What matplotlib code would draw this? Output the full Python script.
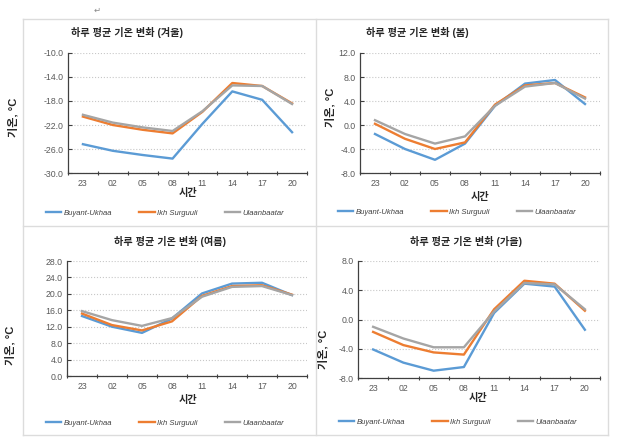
import numpy as np
import matplotlib
matplotlib.use("Agg")
import matplotlib.pyplot as plt
from matplotlib.lines import Line2D

plt.rcParams['font.family'] = ['Liberation Sans', 'Noto Sans CJK KR', 'DejaVu Sans']
plt.rcParams['axes.unicode_minus'] = False

hours = ["23", "02", "05", "08", "11", "14", "17", "20"]
stations = ["Buyant-Ukhaa", "Ikh Surguuli", "Ulaanbaatar"]

# 겨울
winter_buyant = [-25.2, -26.3, -27.0, -27.6, -21.8, -16.4, -17.8, -23.2]
winter_ikh = [-20.6, -22.0, -22.8, -23.4, -19.8, -15.0, -15.5, -18.4]
winter_ub = [-20.3, -21.6, -22.4, -23.0, -19.7, -15.4, -15.5, -18.5]
# 봄
spring_buyant = [-1.5, -4.0, -5.8, -3.1, 3.2, 6.9, 7.5, 3.5]
spring_ikh = [0.2, -2.3, -4.0, -2.9, 3.4, 6.6, 7.0, 4.6]
spring_ub = [0.8, -1.5, -3.1, -1.9, 3.2, 6.4, 7.0, 4.4]
# 여름
summer_buyant = [14.6, 12.0, 10.5, 14.0, 20.1, 22.5, 22.7, 19.7]
summer_ikh = [15.2, 12.4, 11.1, 13.3, 19.5, 21.9, 22.1, 19.8]
summer_ub = [15.8, 13.6, 12.2, 14.1, 19.3, 21.7, 21.9, 19.7]
# 가을
autumn_buyant = [-4.1, -5.9, -7.0, -6.5, 0.9, 4.9, 4.5, -1.4]
autumn_ikh = [-1.7, -3.5, -4.5, -4.8, 1.4, 5.3, 4.9, 1.2]
autumn_ub = [-1.0, -2.6, -3.8, -3.8, 1.1, 5.0, 4.8, 1.4]

colors = ["#5B9BD5", "#ED7D31", "#A5A5A5"]

W, H = 619, 444
fig = plt.figure(figsize=(W / 100, H / 100), dpi=100)

def fx(px):
    return px / W

def fy(py):
    return 1 - py / H

# 표 테두리
for x0, y0, x1, y1 in [(23, 19, 608, 19), (23, 435, 608, 435), (23, 19, 23, 435),
                       (608, 19, 608, 435), (316, 19, 316, 435), (23, 226, 608, 226)]:
    fig.add_artist(Line2D([fx(x0), fx(x1)], [fy(y0), fy(y1)], color="#dcdcdc", lw=1.0))

fig.text(fx(97), fy(10), "↵", fontsize=6, color="#888888", ha="center", va="center",
         family="DejaVu Sans")

panels = [
    # (data, ylim, yticks, axes box [l, t, r, b] px, title, title pos, ylabel pos, xlabel pos, legend pos)
    ((winter_buyant, winter_ikh, winter_ub), (-30, -10), np.arange(-30, -9, 4),
     (68, 53, 307, 173), "하루 평균 기온 변화 (겨울)", (127, 33), (13, 117), (188, 193), (47, 213)),
    ((spring_buyant, spring_ikh, spring_ub), (-8, 12), np.arange(-8, 13, 4),
     (360, 53, 600, 173), "하루 평균 기온 변화 (봄)", (417, 33), (330, 107), (480, 197), (339, 212)),
    ((summer_buyant, summer_ikh, summer_ub), (0, 28), np.arange(0, 29, 4),
     (67, 261, 307, 376), "하루 평균 기온 변화 (여름)", (170, 241), (10, 345), (188, 400), (47, 423)),
    ((autumn_buyant, autumn_ikh, autumn_ub), (-8, 8), np.arange(-8, 9, 4),
     (358, 261, 600, 378), "하루 평균 기온 변화 (가을)", (466, 241), (323, 349), (478, 398), (340, 422)),
]

x = np.arange(len(hours))
for series, ylim, yticks, box, title, tpos, ylpos, xlpos, lgpos in panels:
    l, t, r, b = box
    ax = fig.add_axes([fx(l), fy(b), fx(r - l), (b - t) / H])
    for vals, name, c in zip(series, stations, colors):
        ax.plot(x, vals, color=c, lw=1.7, label=name, solid_joinstyle="round")
    ax.set_xlim(-0.5, len(hours) - 0.5)
    ax.set_ylim(*ylim)
    ax.set_yticks(yticks)
    ax.set_yticklabels([f"{v:.1f}" for v in yticks])
    ax.set_xticks(x)
    ax.set_xticklabels(hours)
    ax.set_xticks(np.arange(-0.5, len(hours), 1), minor=True)
    ax.tick_params(axis="x", which="major", length=0, pad=4, labelsize=6.3, labelcolor="#595959")
    ax.tick_params(axis="x", which="minor", length=3, width=0.8, direction="inout", color="#404040")
    ax.tick_params(axis="y", length=3, width=0.8, direction="in", pad=3, labelsize=6.3,
                   labelcolor="#595959", color="#404040")
    ax.yaxis.grid(True, linestyle=":", color="#c8c8c8", lw=0.8)
    ax.set_axisbelow(True)
    for s in ["top", "right"]:
        ax.spines[s].set_visible(False)
    for s in ["left", "bottom"]:
        ax.spines[s].set_color("#404040")
        ax.spines[s].set_linewidth(0.9)

    fig.text(fx(tpos[0]), fy(tpos[1]), title, fontsize=7.3, fontweight="bold",
             ha="center", va="center", color="#262626")
    fig.text(fx(ylpos[0]), fy(ylpos[1]), "기온, °C", fontsize=8, fontweight="bold",
             rotation=90, ha="center", va="center", color="#262626")
    fig.text(fx(xlpos[0]), fy(xlpos[1]), "시간", fontsize=7.3, fontweight="bold",
             ha="center", va="center", color="#262626")

    ax.legend(loc="center left", bbox_to_anchor=(fx(lgpos[0]) - 0.008, fy(lgpos[1])),
              bbox_transform=fig.transFigure, ncol=3, frameon=False,
              prop={"size": 5.5, "style": "italic"}, labelcolor="#404040",
              handlelength=2.0, handletextpad=0.3, columnspacing=3.6, borderpad=0)

fig.savefig("out.png", dpi=100)
